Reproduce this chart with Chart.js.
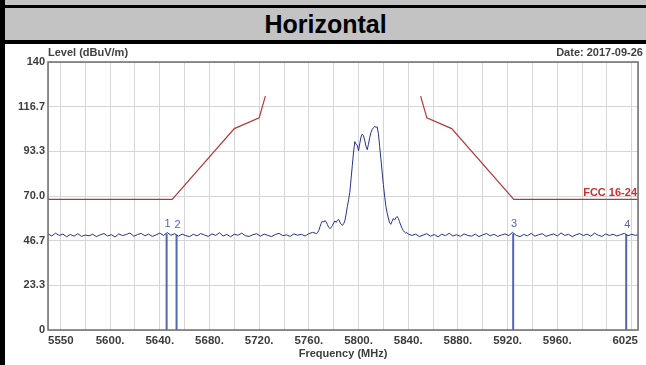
<!DOCTYPE html>
<html lang="en">
<head>
<meta charset="utf-8">
<title>Horizontal</title>
<script src="https://cdn.jsdelivr.net/npm/chart.js"></script>
<style>
  body { margin: 0; width: 646px; height: 365px; background: #fff; position: relative; overflow: hidden; font-family: "Liberation Sans", Arial, sans-serif; }
  .banda { position: absolute; left: 0; top: 0; width: 646px; height: 44px; background: #c3c3c3; }
  .linea1 { position: absolute; left: 0; top: 5px; width: 646px; height: 3px; background: #000; }
  .linea2 { position: absolute; left: 0; top: 40px; width: 646px; height: 4px; background: #000; }
  .borde { position: absolute; left: 0; top: 0; width: 5px; height: 365px; background: #000; }
  .titulo { position: absolute; left: 5px; top: 8px; width: 641px; height: 32px; line-height: 32px; text-align: center; font-weight: bold; font-size: 25px; color: #000; }
  .nivel, .fecha { position: absolute; top: 46px; font-size: 11px; font-weight: bold; color: #404040; }
  .nivel { left: 48px; }
  .fecha { right: 3px; }
  .grafico { position: absolute; left: 5px; top: 44px; width: 641px; height: 321px; }
</style>
</head>
<body>
<div class="banda"></div>
<div class="linea1"></div>
<div class="linea2"></div>
<div class="borde"></div>
<div class="titulo">Horizontal</div>
<div class="grafico"><canvas id="espectro"></canvas></div>
<div class="nivel">Level (dBuV/m)</div>
<div class="fecha">Date: 2017-09-26</div>
<script>
// Barrido del analizador (MHz) y nivel medido (dBuV/m)
const frecuencias = [
  5550, 5553, 5556, 5559, 5562, 5565, 5568, 5571, 5574, 5577,
  5580, 5583, 5586, 5589, 5592, 5595, 5598, 5601, 5604, 5607,
  5610, 5613, 5616, 5619, 5622, 5625, 5628, 5631, 5634, 5637,
  5640, 5643, 5646, 5649, 5652, 5655, 5658, 5661, 5664, 5667,
  5670, 5673, 5676, 5679, 5682, 5685, 5688, 5691, 5694, 5697,
  5700, 5703, 5706, 5709, 5712, 5715, 5718, 5721, 5724, 5727,
  5730, 5733, 5736, 5739, 5742, 5745, 5748, 5751, 5754, 5757,
  5760, 5763, 5766,
  5767, 5768, 5769, 5770, 5771, 5772, 5773, 5774, 5775, 5776,
  5777, 5778, 5779, 5780, 5781, 5782, 5783, 5784, 5785, 5786,
  5787, 5788, 5789, 5790, 5791, 5792, 5793, 5794, 5795, 5796,
  5797, 5798, 5799, 5800, 5801, 5802, 5803, 5804, 5805, 5806,
  5807, 5808, 5809, 5810, 5811, 5812, 5813, 5814, 5815, 5816,
  5817, 5818, 5819, 5820, 5821, 5822, 5823, 5824, 5825, 5826,
  5827, 5828, 5829, 5830, 5831, 5832, 5833, 5834, 5835, 5836,
  5837, 5838, 5839, 5840,
  5843, 5846, 5849, 5852, 5855, 5858, 5861, 5864, 5867, 5870,
  5873, 5876, 5879, 5882, 5885, 5888, 5891, 5894, 5897, 5900,
  5903, 5906, 5909, 5912, 5915, 5918, 5921, 5924, 5927, 5930,
  5933, 5936, 5939, 5942, 5945, 5948, 5951, 5954, 5957, 5960,
  5963, 5966, 5969, 5972, 5975, 5978, 5981, 5984, 5987, 5990,
  5993, 5996, 5999, 6002, 6005, 6008, 6011, 6014, 6017, 6020,
  6023, 6025,
];
const niveles = [
  50.2, 49.1, 50.6, 49.4, 50.1, 48.7, 49.9, 49.0, 50.3, 48.9,
  49.6, 49.2, 50.0, 48.8, 49.7, 50.4, 49.1, 49.8, 48.6, 50.2,
  49.3, 49.9, 50.7, 49.0, 49.8, 50.5, 49.2, 50.1, 48.9, 49.7,
  50.6, 49.4, 50.9, 49.5, 50.3, 49.0, 50.1, 49.3, 48.8, 50.0,
  49.2, 50.4, 49.6, 48.9, 50.2, 49.4, 50.8, 49.1, 49.9, 48.7,
  50.0, 49.5, 50.6, 49.2, 48.9, 49.8, 50.3, 49.0, 50.1, 49.4,
  48.8, 49.9, 50.5, 49.3, 49.7, 48.9, 50.2, 49.5, 50.0, 49.1,
  50.3, 51.0, 50.4,
  50.8, 52.0, 54.0, 55.8, 57.0, 56.3, 57.2, 56.4, 55.0, 53.6,
  53.0, 53.5, 54.6, 55.9, 57.0, 56.2, 57.3, 57.8, 56.4, 55.2,
  54.6, 55.5, 57.0, 60.5, 64.5, 68.0, 72.0, 79.0, 86.0, 93.0,
  98.4, 97.0, 96.5, 93.6, 97.5, 100.8, 102.3, 101.5, 99.0, 96.0,
  94.2, 97.0, 100.5, 103.2, 104.8, 105.6, 106.4, 105.9, 106.1, 102.5,
  96.0, 89.5, 82.5, 76.0, 70.0, 64.8, 61.2, 58.5, 56.0, 55.2,
  56.8, 58.2, 57.4, 58.6, 59.3, 58.4, 56.5, 54.8, 53.2, 52.0,
  51.2, 50.6, 50.9, 50.1,
  49.4, 50.1, 48.8, 49.6, 50.3, 49.0, 49.9, 48.7, 50.0, 49.3,
  50.5, 49.1, 49.8, 48.9, 50.2, 49.4, 49.0, 50.1, 48.8, 49.7,
  50.4, 49.2, 50.0, 48.9, 49.6, 50.2, 49.3, 51.0, 49.4, 48.8,
  49.9, 49.2, 50.5, 49.0, 49.8, 50.3, 48.9, 49.6, 50.2, 49.1,
  50.7, 49.4, 50.0, 48.8, 49.7, 50.4, 49.3, 50.1, 49.0, 50.6,
  49.5, 48.9, 50.2, 49.4, 50.0, 49.1, 49.8, 50.5, 49.3, 50.0,
  49.4, 49.8,
];

// Límite FCC 16-24 (dos tramos)
const limiteIzqFrec = [5550, 5650, 5700, 5720, 5725];
const limiteIzqNivel = [68.2, 68.2, 105.2, 110.8, 122.2];
const limiteDerFrec = [5850, 5855, 5875, 5925, 6025];
const limiteDerNivel = [122.2, 110.8, 105.2, 68.2, 68.2];

// Marcadores
const marcadores = ["1", "2", "3", "4"];
const marcadorFrec = [5645.5, 5653.5, 5924.5, 6015.5];
const marcadorNivel = [50.3, 49.8, 50.4, 50.0];

// Ejes
const grillaFrec = [
  5560, 5580, 5600, 5620, 5640, 5660, 5680, 5700, 5720, 5740, 5760, 5780,
  5800, 5820, 5840, 5860, 5880, 5900, 5920, 5940, 5960, 5980, 6000, 6020,
];
const etiquetaFrec = [5550, 5600, 5640, 5680, 5720, 5760, 5800, 5840, 5880, 5920, 5960, 6025];
const etiquetaTexto = ["5550", "5600.", "5640.", "5680.", "5720.", "5760.", "5800.", "5840.", "5880.", "5920.", "5960.", "6025"];
const yValores = [0, 23.3, 46.7, 70, 93.3, 116.7, 140];
const yTextos = ["0", "23.3", "46.7", "70.0", "93.3", "116.7", "140"];

const traza = frecuencias.map((f, i) => ({ x: f, y: niveles[i] }));
const limiteIzq = limiteIzqFrec.map((f, i) => ({ x: f, y: limiteIzqNivel[i] }));
const limiteDer = limiteDerFrec.map((f, i) => ({ x: f, y: limiteDerNivel[i] }));

const colorTraza = "#26338f";
const colorLimite = "#b03a3a";
const colorMarcador = "#5565b5";
const fuente = "'Liberation Sans', Arial, sans-serif";

const lineasMarcador = marcadorFrec.map((f, i) => ({
  data: [{ x: f, y: marcadorNivel[i] }, { x: f, y: 0 }],
  borderColor: colorMarcador,
  borderWidth: 2,
  pointRadius: 0,
}));

// Textos de marcadores, etiqueta del límite y marco del gráfico
const extras = {
  id: "extras",
  afterDatasetsDraw(chart) {
    const { ctx, chartArea, scales } = chart;
    ctx.save();
    ctx.strokeStyle = "#6e6e6e";
    ctx.lineWidth = 1.5;
    ctx.strokeRect(chartArea.left, chartArea.top, chartArea.right - chartArea.left, chartArea.bottom - chartArea.top);
    ctx.font = "11px " + fuente;
    ctx.fillStyle = colorMarcador;
    ctx.textAlign = "center";
    ctx.textBaseline = "bottom";
    marcadores.forEach((m, i) => {
      ctx.fillText(m, scales.x.getPixelForValue(marcadorFrec[i]) + 1, scales.y.getPixelForValue(marcadorNivel[i]) - 4);
    });
    ctx.font = "bold 11px " + fuente;
    ctx.fillStyle = "#c83030";
    ctx.textAlign = "right";
    ctx.textBaseline = "alphabetic";
    ctx.fillText("FCC 16-24", chartArea.right - 1, scales.y.getPixelForValue(limiteDerNivel[4]) - 3);
    ctx.restore();
  },
};

new Chart(document.getElementById("espectro"), {
  type: "line",
  data: {
    datasets: [
      { data: limiteIzq, borderColor: colorLimite, borderWidth: 1.2, pointRadius: 0 },
      { data: limiteDer, borderColor: colorLimite, borderWidth: 1.2, pointRadius: 0 },
      { data: traza, borderColor: colorTraza, borderWidth: 1, pointRadius: 0 },
      ...lineasMarcador,
    ],
  },
  options: {
    responsive: true,
    maintainAspectRatio: false,
    animation: false,
    layout: { padding: { top: 18, right: 8, left: 0, bottom: 0 } },
    plugins: { legend: { display: false }, tooltip: { enabled: false } },
    scales: {
      x: {
        type: "linear",
        min: 5550,
        max: 6025,
        afterBuildTicks: (scale) => {
          scale.ticks = [5550, ...grillaFrec, 6025].map((v) => ({ value: v }));
        },
        afterFit: (scale) => {
          scale.height = 35;
        },
        border: { display: false },
        grid: { color: "#d6d6d6", lineWidth: 1, drawTicks: false },
        ticks: {
          autoSkip: false,
          maxRotation: 0,
          align: "inner",
          padding: 4,
          color: "#3c3c3c",
          font: { family: fuente, size: 11.5, weight: "bold" },
          callback: function (valor) {
            const i = etiquetaFrec.indexOf(valor);
            return i >= 0 ? etiquetaTexto[i] : "";
          },
        },
        title: {
          display: true,
          text: "Frequency (MHz)",
          color: "#3c3c3c",
          font: { family: fuente, size: 11, weight: "bold" },
          padding: { top: 0, bottom: 4 },
        },
      },
      y: {
        min: 0,
        max: 140,
        afterBuildTicks: (scale) => {
          scale.ticks = yValores.map((v) => ({ value: v }));
        },
        afterFit: (scale) => {
          scale.width = 43;
        },
        border: { display: false },
        grid: { color: "#d6d6d6", lineWidth: 1, drawTicks: false },
        ticks: {
          padding: 3,
          color: "#3c3c3c",
          font: { family: fuente, size: 11, weight: "bold" },
          callback: function (valor, indice) {
            return yTextos[indice];
          },
        },
      },
    },
  },
  plugins: [extras],
});
</script>
</body>
</html>
